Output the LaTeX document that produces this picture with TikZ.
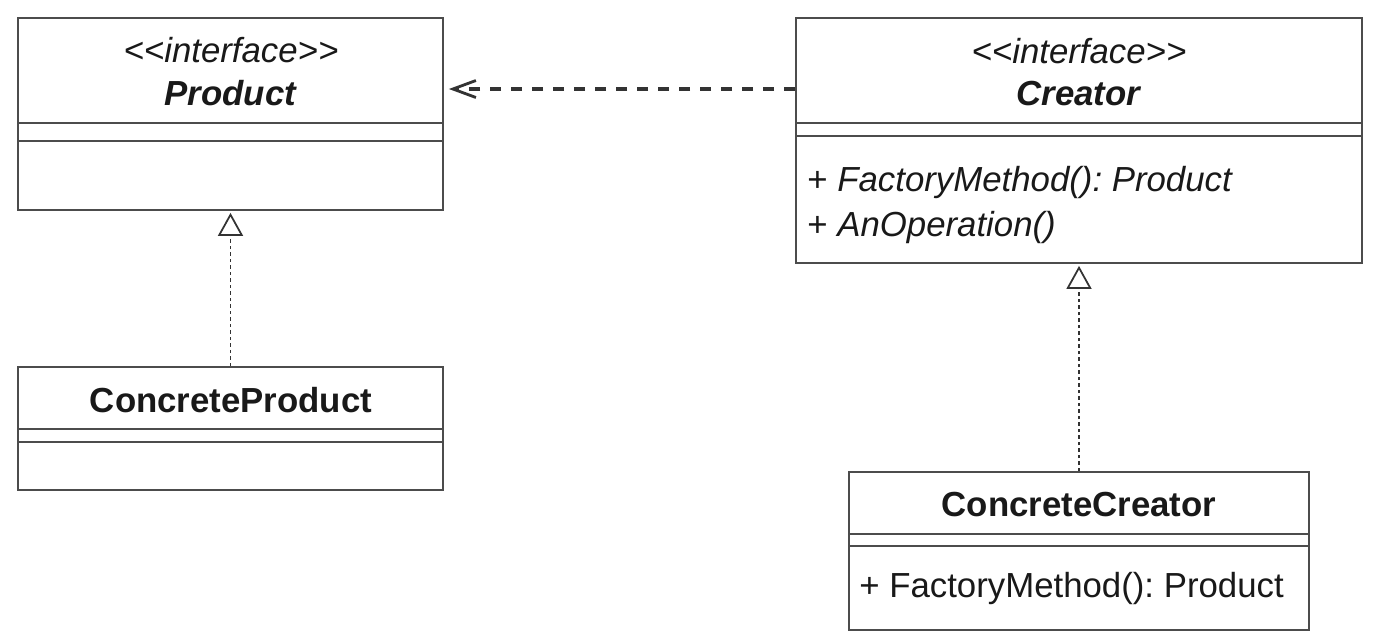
\documentclass[tikz,border=0pt]{standalone}
\usepackage{fontspec}
\setmainfont{Liberation Sans}
\usetikzlibrary{calc,fit,arrows.meta}
\frenchspacing
\tikzstyle{every node}=[inner sep=0pt,text=black!90]
\tikzstyle{cls}=[draw=black!70,line width=1pt]
\tikzstyle{sep}=[draw=black!70,line width=1pt]
\definecolor{ln}{rgb}{0.2,0.2,0.2}

\begin{document}
\begin{tikzpicture}[x=0.02cm,y=-0.02cm,
	uml/.style={font=\fontsize{19.8}{24.4}\selectfont,align=center},
	ops/.style={font=\fontsize{19.8}{25.5}\selectfont,align=left,anchor=west},
	dep/.style={draw=ln,line width=2pt,dash pattern=on 0.22cm off 0.2cm,-{Straight Barb[length=0.46cm,width=0.34cm,line width=1.6pt]},shorten >=0.1cm},
	real/.style={draw=ln,line width=1pt,dash pattern=on 0.07cm off 0.06cm,-{Triangle[open,length=0.46cm,width=0.5cm,line width=1pt]},shorten >=0.04cm}]
	\useasboundingbox (0,0) rectangle (1382,640);
	\fill[white] (0,0) rectangle (1382,640);
	% class boxes
	\node[cls,fit={(18,18) (443,210)}] (product) {};
	\node[cls,fit={(18,367) (443,490)}] (cproduct) {};
	\node[cls,fit={(796,18) (1362,263)}] (creator) {};
	\node[cls,fit={(849,472) (1309,630)}] (ccreator) {};
	% compartments
	\draw[sep] (product.west |- 0,123) -- (product.east |- 0,123);
	\draw[sep] (product.west |- 0,141) -- (product.east |- 0,141);
	\draw[sep] (cproduct.west |- 0,429) -- (cproduct.east |- 0,429);
	\draw[sep] (cproduct.west |- 0,442) -- (cproduct.east |- 0,442);
	\draw[sep] (creator.west |- 0,123) -- (creator.east |- 0,123);
	\draw[sep] (creator.west |- 0,136) -- (creator.east |- 0,136);
	\draw[sep] (ccreator.west |- 0,534) -- (ccreator.east |- 0,534);
	\draw[sep] (ccreator.west |- 0,546) -- (ccreator.east |- 0,546);
	% names
	\node[uml] (prodname) at (231,72) {\textit{{<}{<}interface{>}{>}}\\\textbf{\textit{Product}}};
	\node[uml] (crname) at (1079,72) {\textit{{<}{<}interface{>}{>}}\\\textbf{\textit{Creator}}};
	\node[uml] (cprodname) at (231,400) {\textbf{ConcreteProduct}};
	\node[uml] (ccrname) at (1079,505) {\textbf{ConcreteCreator}};
	% operations
	\node[ops] (crops) at (807,205) {+ \textit{FactoryMethod(): Product}\\+ \textit{AnOperation()}};
	\node[ops] (ccrops) at (859,588) {+ FactoryMethod(): Product};
	% relations
	\draw[dep] (creator.west |- 0,89) -- (product.east |- 0,89);
	\draw[real] (cproduct.north) -- (product.south);
	\draw[real] (ccreator.north) -- (creator.south);
\end{tikzpicture}
\end{document}
